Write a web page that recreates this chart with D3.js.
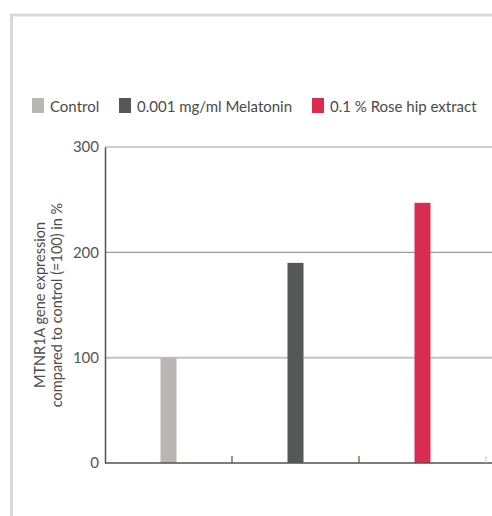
<!DOCTYPE html>
<html>
<head>
<meta charset="utf-8">
<script src="https://cdn.jsdelivr.net/npm/d3@7"></script>
<style>
  html, body { margin: 0; padding: 0; background: #fff; }
  svg { display: block; }
  text { font-family: Lato, "Open Sans", sans-serif; }
</style>
</head>
<body>
<svg id="chart" width="492" height="516"></svg>
<script>
// Series and values
const categories = ["Control", "0.001 mg/ml Melatonin", "0.1 % Rose hip extract"];
const values = [100, 190, 247];
const colors = ["#bab6b3", "#545957", "#d92c50"];
const yTicks = [0, 100, 200, 300];
const yTitle = ["MTNR1A gene expression", "compared to control (=100) in %"];

const svg = d3.select("#chart");
const W = 492, H = 516;
const plot = { left: 105, right: 486, top: 147, bottom: 463 };

// Light frame around the figure
svg.append("path")
  .attr("d", `M${11.5},${H} L${11.5},${15} L${W},${15}`)
  .attr("fill", "none")
  .attr("stroke", "#d9d9d9")
  .attr("stroke-width", 3);

const x = d3.scaleBand().domain(categories).range([plot.left, plot.right]).padding(0);
const y = d3.scaleLinear().domain([0, 300]).range([plot.bottom, plot.top]);

// Horizontal grid lines
svg.append("g").selectAll("line")
  .data(yTicks.filter(d => d > 0))
  .join("line")
  .attr("x1", plot.left).attr("x2", W)
  .attr("y1", d => y(d)).attr("y2", d => y(d))
  .attr("stroke", d => d === 100 ? "#c4c4c2" : "#9c9c96")
  .attr("stroke-width", d => d === 100 ? 2 : 1.2);

// Bars
const barW = 16;
svg.append("g").selectAll("rect")
  .data(categories)
  .join("rect")
  .attr("x", d => x(d) + x.bandwidth() / 2 - barW / 2)
  .attr("width", barW)
  .attr("y", (d, i) => y(values[i]))
  .attr("height", (d, i) => y(0) - y(values[i]))
  .attr("fill", (d, i) => colors[i]);

// Y axis
const yAxis = d3.axisLeft(y).tickValues(yTicks).tickSize(0).tickPadding(6);
const gy = svg.append("g").attr("transform", `translate(${plot.left},0)`).call(yAxis);
gy.select(".domain").attr("stroke", "#55524a").attr("stroke-width", 1.5);
gy.selectAll("text")
  .attr("fill", "#555")
  .style("font-size", "15px")
  .style("font-family", "Lato, 'Open Sans', sans-serif");

// X axis with upward ticks at band edges
svg.append("line")
  .attr("x1", plot.left).attr("x2", W)
  .attr("y1", y(0)).attr("y2", y(0))
  .attr("stroke", "#55524a").attr("stroke-width", 1.5);
svg.append("g").selectAll("line")
  .data(categories.slice(1).concat(["end"]))
  .join("line")
  .attr("x1", (d, i) => plot.left + x.bandwidth() * (i + 1))
  .attr("x2", (d, i) => plot.left + x.bandwidth() * (i + 1))
  .attr("y1", y(0)).attr("y2", y(0) - 7)
  .attr("stroke", (d, i) => i === 2 ? "#d0d0d0" : "#55524a")
  .attr("stroke-width", 1.2);

// Y axis title (two lines)
const midY = (plot.top + plot.bottom) / 2;
svg.append("text")
  .attr("transform", `translate(45,${midY}) rotate(-90)`)
  .attr("text-anchor", "middle")
  .attr("fill", "#4d4d4d")
  .style("font-size", "14.5px")
  .selectAll("tspan")
  .data(yTitle)
  .join("tspan")
  .attr("x", 0)
  .attr("dy", (d, i) => i === 0 ? 0 : 16.5)
  .text(d => d);

// Legend
const legendX = [32, 119, 312];
const lg = svg.append("g").selectAll("g")
  .data(categories)
  .join("g")
  .attr("transform", (d, i) => `translate(${legendX[i]},98)`);
lg.append("rect")
  .attr("width", 12).attr("height", 15)
  .attr("fill", (d, i) => colors[i]);
lg.append("text")
  .attr("x", 18).attr("y", 13.5)
  .attr("fill", "#4a4a4a")
  .style("font-size", "15px")
  .text(d => d);
</script>
</body>
</html>
